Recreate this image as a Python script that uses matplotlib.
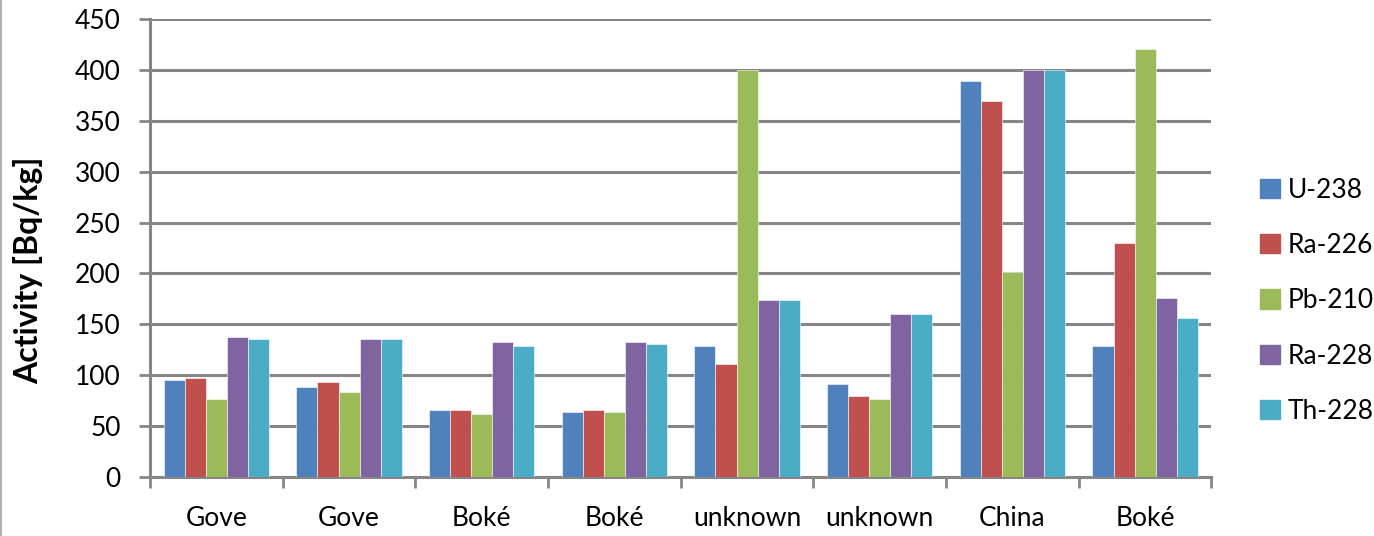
import numpy as np
import matplotlib
matplotlib.use("Agg")
import matplotlib.pyplot as plt
from matplotlib.lines import Line2D

plt.rcParams['font.family'] = ['Lato', 'DejaVu Sans']

sites = ["Gove", "Gove", "Boké", "Boké", "unknown", "unknown", "China", "Boké"]
nuclides = ["U-238", "Ra-226", "Pb-210", "Ra-228", "Th-228"]

u238 = [95, 88, 66, 64, 129, 91, 389, 129]
ra226 = [97, 93, 66, 66, 111, 80, 369, 230]
pb210 = [77, 84, 62, 64, 400, 77, 201, 421]
ra228 = [138, 136, 133, 133, 174, 160, 400, 176]
th228 = [136, 136, 129, 131, 174, 160, 400, 156]

series = [u238, ra226, pb210, ra228, th228]
colors = ["#4F81BD", "#C0504D", "#9BBB59", "#8064A2", "#4BACC6"]

fig = plt.figure(figsize=(13.74, 5.36), dpi=100)
ax = fig.add_axes([0.1092, 0.110, 0.7725, 0.8545])

grid_col = "#868686"
n = len(series)
bar_w = 1.0 / (n + 1.3)
x = np.arange(len(sites))
for i, (vals, col) in enumerate(zip(series, colors)):
    offs = (i - (n - 1) / 2) * bar_w
    ax.bar(x + offs, vals, width=bar_w, color=col, label=nuclides[i],
           edgecolor="white", linewidth=0.4, zorder=3)

ax.set_xlim(-0.5, len(sites) - 0.5)
ax.set_ylim(0, 450)
ax.set_yticks(np.arange(0, 451, 50))
ax.yaxis.grid(True, color=grid_col, linewidth=2.2, zorder=0)
ax.set_axisbelow(True)

ax.set_xticks(x)
ax.set_xticklabels(sites, fontsize=19)
ax.set_xticks(np.arange(-0.5, len(sites)), minor=True)
ax.tick_params(axis="x", which="major", length=0, pad=21)
ax.tick_params(axis="x", which="minor", length=8, width=2, color=grid_col)
ax.tick_params(axis="y", length=8, width=2, color=grid_col, labelsize=19, pad=13)

for s in ["top", "right"]:
    ax.spines[s].set_visible(False)
for s in ["left", "bottom"]:
    ax.spines[s].set_color(grid_col)
    ax.spines[s].set_linewidth(2.2)

ax.set_ylabel("Activity [Bq/kg]", fontsize=23, fontweight="bold")
ax.yaxis.set_label_coords(-0.101, 0.452)

handles = [plt.Rectangle((0, 0), 1, 1, color=c) for c in colors]
fig.legend(handles, nuclides, loc="center left", bbox_to_anchor=(0.917, 0.439),
           frameon=False, fontsize=19, handlelength=0.75, handleheight=0.75,
           labelspacing=1.15, handletextpad=0.3, borderpad=0, borderaxespad=0)

fig.add_artist(Line2D([0.0004, 0.0004], [0, 1], transform=fig.transFigure,
                      color="#A0A0A0", linewidth=1.2))

fig.savefig("out.png", dpi=100)
